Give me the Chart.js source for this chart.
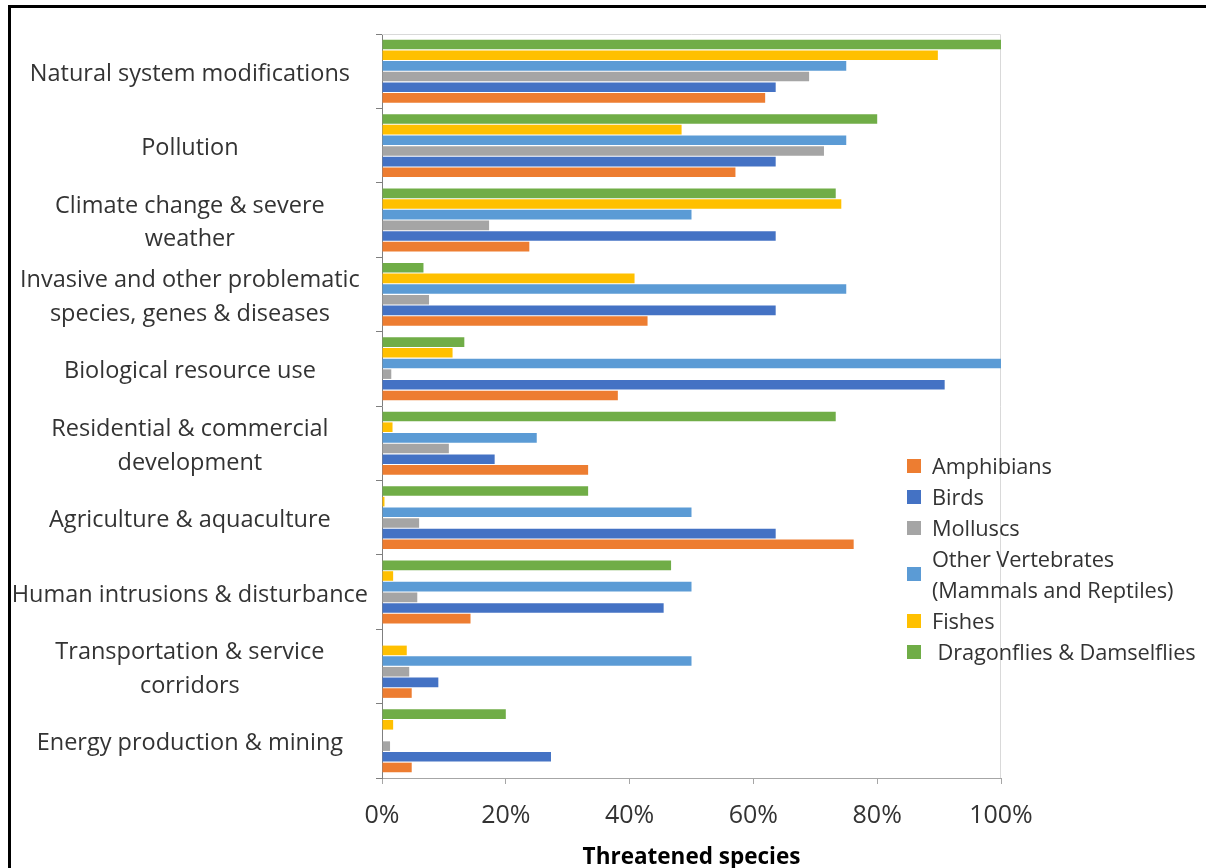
<!DOCTYPE html>
<html>
<head>
<meta charset="utf-8">
<script src="https://cdn.jsdelivr.net/npm/chart.js@4/dist/chart.umd.min.js"></script>
<style>
  html, body { margin: 0; padding: 0; background: #fff; overflow: hidden; }
  #wrap { position: relative; width: 1206px; height: 900px; }
  #frame {
    position: absolute; left: 8px; top: 5px; right: -10px; bottom: -10px;
    border-left: 3px solid #000; border-top: 3px solid #000; pointer-events: none;
  }
  #legend {
    position: absolute; left: 907px; top: 450px;
    font-family: "Open Sans", sans-serif; font-size: 21.8px; color: #333;
  }
  .item { display: flex; align-items: center; white-space: pre; line-height: 31px; letter-spacing: -0.1px; }
  .swatch { width: 14px; height: 14px; margin-right: 11px; flex: none; }
</style>
</head>
<body>
<div id="wrap">
  <canvas id="threats" width="1206" height="900"></canvas>
  <div id="legend"></div>
  <div id="frame"></div>
</div>
<script>
// Share of threatened species affected by each threat, per group (%)
const categories = [
  "Natural system modifications",
  "Pollution",
  ["Climate change & severe", "weather"],
  ["Invasive and other problematic", "species, genes & diseases"],
  "Biological resource use",
  ["Residential & commercial", "development"],
  "Agriculture & aquaculture",
  "Human intrusions & disturbance",
  ["Transportation & service", "corridors"],
  "Energy production & mining",
];

const amphibians       = [61.9, 57.1, 23.8, 42.9, 38.1, 33.3, 76.2, 14.3, 4.8, 4.8];
const birds            = [63.6, 63.6, 63.6, 63.6, 90.9, 18.2, 63.6, 45.5, 9.1, 27.3];
const molluscs         = [69.0, 71.4, 17.3, 7.6, 1.5, 10.8, 6.0, 5.7, 4.4, 1.3];
const otherVertebrates = [75, 75, 50, 75, 100, 25, 50, 50, 50, 0];
const fishes           = [89.8, 48.4, 74.2, 40.8, 11.4, 1.7, 0.4, 1.8, 4.0, 1.8];
const dragonflies      = [100, 80, 73.3, 6.7, 13.3, 73.3, 33.3, 46.7, 0, 20];

const xTicks = [0, 20, 40, 60, 80, 100];

// Legend order (top to bottom); bars are stacked the other way round within a group
const series = [
  { name: "Amphibians", data: amphibians, color: "#ED7D31" },
  { name: "Birds", data: birds, color: "#4472C4" },
  { name: "Molluscs", data: molluscs, color: "#A5A5A5" },
  { name: "Other Vertebrates\n(Mammals and Reptiles)", data: otherVertebrates, color: "#5B9BD5" },
  { name: "Fishes", data: fishes, color: "#FFC000" },
  { name: " Dragonflies & Damselflies", data: dragonflies, color: "#70AD47" },
];

Chart.defaults.font.family = '"Open Sans", sans-serif';
Chart.defaults.color = "#333";

// light frame on the top and right of the plot area
const plotFrame = {
  id: "plotFrame",
  beforeDatasetsDraw(chart) {
    const { ctx, chartArea: a } = chart;
    ctx.save();
    ctx.strokeStyle = "#d9d9d9";
    ctx.lineWidth = 1;
    ctx.beginPath();
    ctx.moveTo(a.left, a.top + 0.5);
    ctx.lineTo(a.right - 0.5, a.top + 0.5);
    ctx.lineTo(a.right - 0.5, a.bottom);
    ctx.stroke();
    ctx.restore();
  },
};

const chart = new Chart(document.getElementById("threats"), {
  type: "bar",
  data: {
    labels: categories,
    datasets: series.slice().reverse().map((s) => ({
      label: s.name,
      data: s.data,
      backgroundColor: s.color,
      categoryPercentage: 0.86,
      barPercentage: 0.9,
    })),
  },
  options: {
    indexAxis: "y",
    responsive: false,
    animation: false,
    devicePixelRatio: 1,
    layout: { padding: { top: 34, right: 205, bottom: 0, left: 0 } },
    plugins: { legend: { display: false }, tooltip: { enabled: false } },
    scales: {
      x: {
        min: 0,
        max: 100,
        afterFit: (scale) => { scale.height = 122; },
        afterBuildTicks: (scale) => { scale.ticks = xTicks.map((v) => ({ value: v })); },
        grid: { drawOnChartArea: false, tickLength: 6, color: "#a6a6a6" },
        border: { color: "#a6a6a6" },
        ticks: { padding: 17, font: { size: 25 }, callback: (v) => v + "%" },
        title: {
          display: true,
          text: "Threatened species",
          color: "#000",
          font: { size: 22.5, weight: "bold" },
          padding: { top: 4, bottom: 29 },
        },
      },
      y: {
        afterFit: (scale) => { scale.width = 382; },
        grid: { drawOnChartArea: false, tickLength: 6, color: "#7f7f7f" },
        border: { color: "#7f7f7f" },
        ticks: {
          crossAlign: "center",
          padding: 8,
          labelOffset: 3,
          autoSkip: false,
          font: { size: 23.5, lineHeight: 1.42 },
        },
      },
    },
  },
  plugins: [plotFrame],
});

// legend drawn as page text, from the chart's own datasets
const legend = document.getElementById("legend");
chart.data.datasets.slice().reverse().forEach((ds) => {
  const row = document.createElement("div");
  row.className = "item";
  const sw = document.createElement("span");
  sw.className = "swatch";
  sw.style.background = ds.backgroundColor;
  const txt = document.createElement("span");
  txt.textContent = ds.label;
  row.append(sw, txt);
  legend.append(row);
});
</script>
</body>
</html>
